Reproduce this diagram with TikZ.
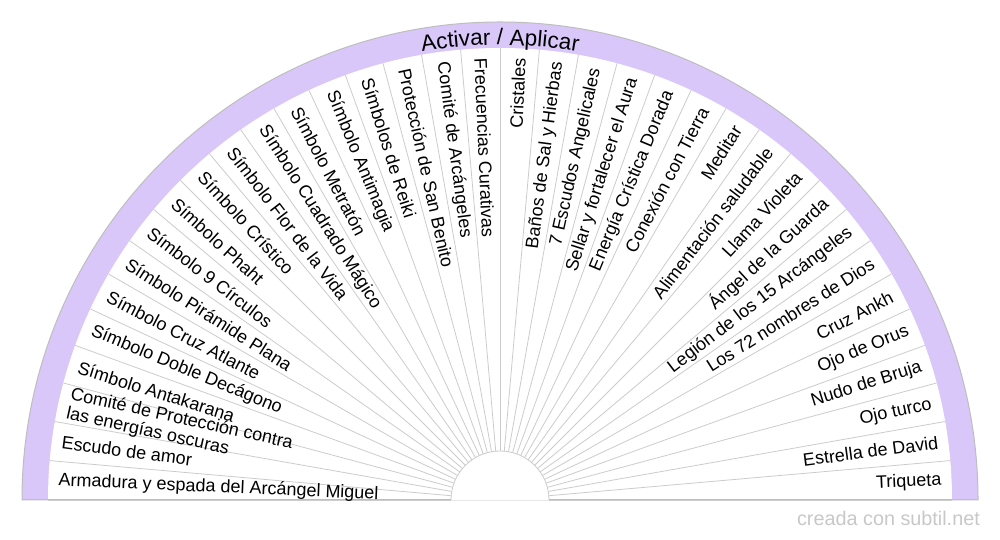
\documentclass[tikz,border=0pt]{standalone}
\usepackage{fontspec}
\setmainfont{Liberation Sans}
\usetikzlibrary{decorations.text}
\definecolor{lav}{RGB}{217,199,250}
\definecolor{rim}{RGB}{190,190,190}
\definecolor{spoke}{RGB}{204,204,204}
\definecolor{mark}{RGB}{200,200,200}
\tikzset{
  lbl/.style={font=\fontsize{18}{19.5}\selectfont, inner sep=0pt, text=black},
  spokeline/.style={draw=spoke, line width=0.8pt},
  rimline/.style={draw=rim, line width=1pt}
}
\begin{document}
\begin{tikzpicture}[x=1pt,y=1pt]
\useasboundingbox (0,0) rectangle (1000,540);
\fill[white] (0,0) rectangle (1000,540);
\begin{scope}[shift={(500pt,40pt)}]
  % outer band
  \filldraw[fill=lav, rimline] (0:478pt) arc[start angle=0, end angle=180, radius=478pt] -- cycle;
  \fill[white] (0:452pt) arc[start angle=0, end angle=180, radius=452pt] -- cycle;
  % spokes
  \foreach \k in {0,...,36}{
    \draw[spokeline] (5*\k:49pt) -- (5*\k:452pt);
  }
  % inner circle
  \filldraw[fill=white, spokeline] (0:49pt) arc[start angle=0, end angle=180, radius=49pt];
  % bottom line
  \draw[rimline] (-478pt,0) -- (-49pt,0);
  \draw[rimline] (49pt,0) -- (478pt,0);
  % title
  \path[decorate, decoration={text along path, text align=center,
      text={|\fontsize{22.5}{24}\selectfont|Activar / Aplicar}}]
      (180:455pt) arc[start angle=180, end angle=0, radius=455pt];
  % labels
  \foreach \t [count=\i] in {
    Armadura y espada del Arcángel Miguel,
    Escudo de amor,
    {Comité de Protección contra\\las energías oscuras},
    Símbolo Antakarana,
    Símbolo Doble Decágono,
    Símbolo Cruz Atlante,
    Símbolo Pirámide Plana,
    Símbolo 9 Círculos,
    Símbolo Phaht,
    Símbolo Crístico,
    Símbolo Flor de la Vida,
    Símbolo Cuadrado Mágico,
    Símbolo Metratón,
    Símbolo Antimagia,
    Símbolos de Reiki,
    Protección de San Benito,
    Comité de Arcángeles,
    Frecuencias Curativas,
    Cristales,
    Baños de Sal y Hierbas,
    7 Escudos Angelicales,
    Sellar y fortalecer el Aura,
    Energía Crística Dorada,
    Conexión con Tierra,
    Meditar,
    Alimentación saludable,
    Llama Violeta,
    Ángel de la Guarda,
    Legión de los 15 Arcángeles,
    Los 72 nombres de Dios,
    Cruz Ankh,
    Ojo de Orus,
    Nudo de Bruja,
    Ojo turco,
    Estrella de David,
    Triqueta}{
    \pgfmathsetmacro\ang{182.5-5*\i}
    \ifnum\i<19
      \node[lbl, anchor=west, align=left, rotate=\ang+180] (l\i) at (\ang:442pt) {\t};
    \else
      \node[lbl, anchor=east, rotate=\ang] (l\i) at (\ang:442pt) {\t};
    \fi
  }
\end{scope}
\node[anchor=base east, inner sep=0pt, text=mark, font=\fontsize{19.8}{21}\selectfont] (wm) at (980pt,14pt) {creada con subtil.net};
\end{tikzpicture}
\end{document}
